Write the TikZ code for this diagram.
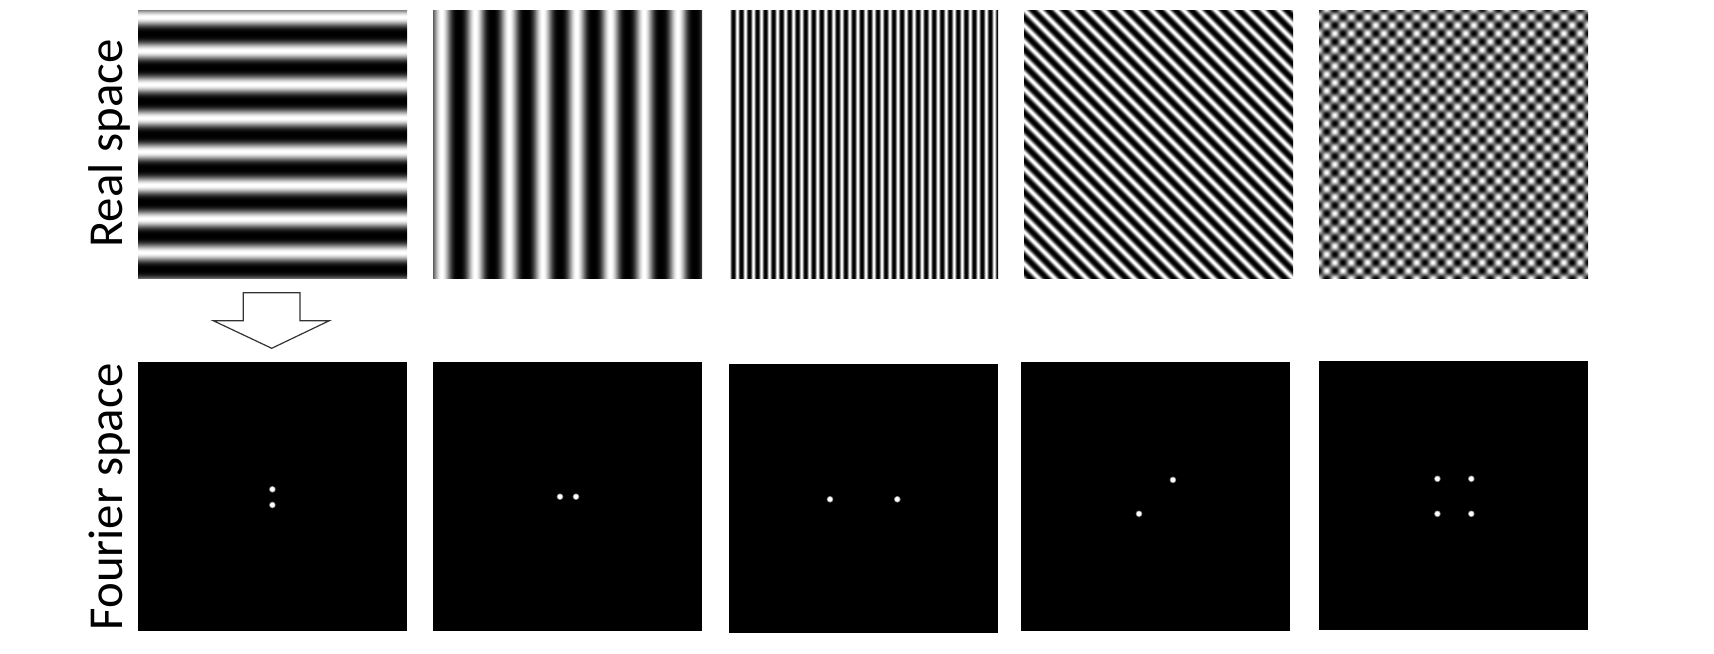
\documentclass[tikz,border=0pt]{standalone}
\usepackage{fontspec}
\setmainfont{Carlito}
% horizontal stripes, 8 cycles
\pgfdeclarefunctionalshading{shA}{\pgfpointorigin}{\pgfpoint{270bp}{269bp}}{}{
  exch pop 261.6 sub 10.706 mul cos 0.5 mul 0.501 add 1.5 exp dup dup
}
% vertical stripes, 8 cycles
\pgfdeclarefunctionalshading{shB}{\pgfpointorigin}{\pgfpoint{270bp}{269bp}}{}{
  pop 9.3 sub 10.667 mul cos 0.5 mul 0.501 add 1.5 exp dup dup
}
% fine vertical stripes
\pgfdeclarefunctionalshading{shC}{\pgfpointorigin}{\pgfpoint{270bp}{269bp}}{}{
  pop 9 sub 44.83 mul cos 0.5 mul 0.501 add 1.5 exp dup dup
}
% diagonal stripes
\pgfdeclarefunctionalshading{shD}{\pgfpointorigin}{\pgfpoint{270bp}{269bp}}{}{
  add 22.667 mul cos 0.5 mul 0.501 add 1.5 exp dup dup
}
% checker of spots
\pgfdeclarefunctionalshading{shE}{\pgfpointorigin}{\pgfpoint{270bp}{269bp}}{}{
  22.0 mul cos exch 22.0 mul cos mul 0.5 mul 0.501 add 1.2 exp dup dup
}
\begin{document}
\begin{tikzpicture}[x=1bp,y=-1bp,
  realpanel/.style={inner sep=0pt, outer sep=0pt, anchor=north west},
  fourierpanel/.style={fill=black, inner sep=0pt, outer sep=0pt, anchor=north west,
    minimum width=269bp, minimum height=269bp},
  spotglow/.style={fill=white!55!black},
  spotcore/.style={fill=white},
  lbl/.style={rotate=90, anchor=base, inner sep=0pt, font=\fontsize{49}{58}\selectfont},
  bigarrow/.style={draw=black!80, line width=1.2bp, fill=white, line join=miter}]
\useasboundingbox[fill=white] (0,0) rectangle (1714,654);

% real space panels
\node[realpanel] (r1) at (137,9.5) {\pgfuseshading{shA}};
\node[realpanel] (r2) at (432,9.5) {\pgfuseshading{shB}};
\node[realpanel] (r3) at (728,9.5) {\pgfuseshading{shC}};
\node[realpanel] (r4) at (1023,9.5) {\pgfuseshading{shD}};
\node[realpanel] (r5) at (1318,9.5) {\pgfuseshading{shE}};

% fourier space panels
\node[fourierpanel] (f1) at (138,362) {};
\node[fourierpanel] (f2) at (433,361.5) {};
\node[fourierpanel] (f3) at (729,364) {};
\node[fourierpanel] (f4) at (1021,362) {};
\node[fourierpanel] (f5) at (1319,361) {};

% spots
\foreach \p in {(272.4,489.3),(272.4,505),(560,496.7),(576,496.7),(830,499.3),(897.3,499.3),
  (1172.9,479.9),(1139,513.8),(1437.4,478.8),(1471.3,478.8),(1437.4,513.8),(1471.3,513.8)}{
  \fill[spotglow] \p circle (3.3);
  \fill[spotcore] \p circle (2.4);
}

% labels
\node[lbl] (lreal) at (122,143.5) {Real space};
\node[lbl] (lfour) at (122,497) {Fourier space};

% transform arrow
\draw[bigarrow] (243.3,292.7) -- (300,292.7) -- (300,320.7) -- (329.3,320.7)
  -- (271.7,348.3) -- (213.3,320.7) -- (243.3,320.7) -- cycle;
\end{tikzpicture}
\end{document}
